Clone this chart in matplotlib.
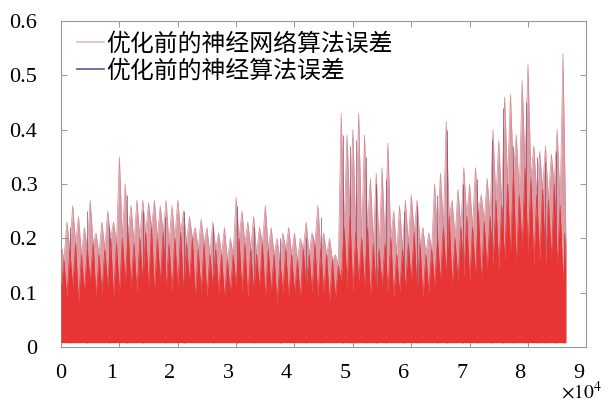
import numpy as np
import matplotlib
matplotlib.use('Agg')
import matplotlib.pyplot as plt
from matplotlib.transforms import ScaledTranslation

plt.rcParams['font.family'] = ['Liberation Serif', 'DejaVu Serif']
plt.rcParams['mathtext.fontset'] = 'stix'

# read-off values: one value per 1000 samples, pink peaks at k*1000, red peaks in between
step = 1000
n_pts = 87

# upper peaks of the pink series (neural network error before optimisation)
pink_peak = [0.19, 0.23, 0.26, 0.24, 0.22, 0.27, 0.21, 0.23, 0.25, 0.23,
             0.35, 0.30, 0.26, 0.27, 0.27, 0.265, 0.27, 0.26, 0.27, 0.26,
             0.27, 0.25, 0.24, 0.22, 0.235, 0.22, 0.23, 0.21, 0.22, 0.20,
             0.275, 0.25, 0.23, 0.24, 0.22, 0.26, 0.22, 0.20, 0.21, 0.22,
             0.21, 0.20, 0.23, 0.21, 0.26, 0.21, 0.20, 0.17, 0.43, 0.39,
             0.40, 0.43, 0.39, 0.31, 0.32, 0.33, 0.375, 0.25, 0.26, 0.27,
             0.28, 0.27, 0.22, 0.21, 0.30, 0.32, 0.415, 0.27, 0.29, 0.33,
             0.30, 0.33, 0.28, 0.31, 0.40, 0.38, 0.46, 0.465, 0.39, 0.49,
             0.52, 0.37, 0.36, 0.37, 0.355, 0.40, 0.54]

# dark series (neural algorithm error before optimisation): visible spikes
dark_x = [1.5, 4.5, 8.2, 11.3, 14.0, 17.8, 21.0, 26.0, 30.2, 33.0, 37.5,
          42.0, 44.6, 48.3, 49.5, 50.6, 52.3, 54.0, 55.6, 58.8, 61.0, 64.5,
          66.1, 68.8, 71.2, 73.9, 75.8, 77.5, 79.7, 81.5, 83.0, 84.8, 86.2]
dark_top = [0.22, 0.25, 0.22, 0.28, 0.25, 0.24, 0.25, 0.22, 0.26, 0.22, 0.20,
            0.20, 0.24, 0.39, 0.37, 0.38, 0.35, 0.30, 0.31, 0.25, 0.26, 0.28,
            0.40, 0.30, 0.31, 0.38, 0.44, 0.37, 0.45, 0.35, 0.34, 0.36, 0.21]

# red bulk: spike tops and dips
red_peak = [0.16, 0.18, 0.19, 0.17, 0.18, 0.19, 0.17, 0.18, 0.20, 0.19,
            0.20, 0.21, 0.19, 0.20, 0.21, 0.22, 0.20, 0.21, 0.19, 0.20,
            0.21, 0.19, 0.20, 0.18, 0.19, 0.17, 0.18, 0.17, 0.16, 0.17,
            0.20, 0.19, 0.18, 0.17, 0.19, 0.18, 0.17, 0.16, 0.18, 0.17,
            0.16, 0.18, 0.17, 0.19, 0.18, 0.17, 0.16, 0.15, 0.22, 0.24,
            0.21, 0.20, 0.22, 0.19, 0.18, 0.19, 0.20, 0.17, 0.18, 0.19,
            0.21, 0.19, 0.17, 0.18, 0.20, 0.22, 0.24, 0.20, 0.22, 0.24,
            0.22, 0.25, 0.23, 0.24, 0.27, 0.26, 0.30, 0.32, 0.28, 0.33,
            0.31, 0.28, 0.29, 0.27, 0.30, 0.26, 0.20]
red_dip = [0.10, 0.09, 0.11, 0.08, 0.10, 0.12, 0.09, 0.10, 0.11, 0.09,
           0.10, 0.12, 0.11, 0.10, 0.12, 0.11, 0.10, 0.12, 0.11, 0.10,
           0.11, 0.10, 0.12, 0.09, 0.10, 0.09, 0.11, 0.10, 0.09, 0.10,
           0.11, 0.10, 0.09, 0.10, 0.11, 0.09, 0.10, 0.08, 0.10, 0.09,
           0.10, 0.09, 0.11, 0.10, 0.09, 0.10, 0.08, 0.09, 0.12, 0.11,
           0.10, 0.12, 0.11, 0.09, 0.10, 0.11, 0.10, 0.09, 0.10, 0.11,
           0.12, 0.10, 0.09, 0.10, 0.11, 0.12, 0.13, 0.11, 0.12, 0.13,
           0.12, 0.13, 0.12, 0.14, 0.15, 0.14, 0.16, 0.17, 0.15, 0.18,
           0.17, 0.15, 0.16, 0.15, 0.16, 0.15, 0.12]
red_floor = 0.008

labels = ['优化前的神经网络算法误差', '优化前的神经算法误差']
xticks = [0, 1, 2, 3, 4, 5, 6, 7, 8, 9]
yticks = [0, 0.1, 0.2, 0.3, 0.4, 0.5, 0.6]


def zigzag(at_k, at_half):
    # values at k*step and (k+0.5)*step, interleaved
    x0 = np.arange(n_pts) * step
    xs = np.column_stack([x0, x0 + step / 2]).ravel()
    ys = np.column_stack([at_k, at_half]).ravel()
    return xs, ys


fig = plt.figure(figsize=(6.13, 4.03), dpi=100)
ax = fig.add_axes([0.0995, 0.139, 0.857, 0.809])

# pink spikes rise at k*step, drop to the red top in between
xp, yp = zigzag(pink_peak, red_peak)
ax.fill_between(xp, red_floor, yp, color='#dc9ca5', lw=0, zorder=1)
ax.plot(xp, yp, color='#d58a94', lw=0.5, zorder=1.2)
ax.plot([], [], color='#f0b8c0', lw=1.2, label=labels[0])

ax.vlines(np.array(dark_x) * 1e3, red_floor, dark_top, color='#7a3a58',
          lw=0.7, alpha=0.65, zorder=2)
ax.plot([], [], color='#5a5a8c', lw=1.2, label=labels[1])

# red bulk: low at k*step, high in between
xr, yr = zigzag(red_dip, red_peak)
ax.fill_between(xr, red_floor, yr, color='#e83434', lw=0, zorder=3)
ax.plot(xr, yr, color='#e23a3a', lw=0.5, zorder=3.1)

ax.set_xlim(0, 90000)
ax.set_ylim(0, 0.6)
ax.set_xticks([t * 10000 for t in xticks])
ax.set_xticklabels([str(t) for t in xticks])
ax.set_yticks(yticks)
ax.set_yticklabels(['0' if t == 0 else '%.1f' % t for t in yticks])
ax.tick_params(direction='in', length=4, width=0.6, color='#888888',
               labelsize=16, top=True, right=True)
ax.tick_params(axis='x', pad=12)
ax.tick_params(axis='y', pad=17)
for sp in ax.spines.values():
    sp.set_color('#999999')
    sp.set_linewidth(0.8)

# bottom labels in the source sit a little left of their ticks
shift = ScaledTranslation(-0.08, 0, fig.dpi_scale_trans)
for lbl in ax.get_xticklabels()[1:]:
    lbl.set_transform(lbl.get_transform() + shift)

ax.text(0.99, -0.138, r'$\times 10^{4}$', transform=ax.transAxes,
        ha='center', va='center', fontsize=14)

leg = ax.legend(loc='upper left', bbox_to_anchor=(0.03, 0.965), frameon=False,
                prop={'family': ['Noto Sans CJK SC', 'DejaVu Sans'], 'size': 17.2},
                handlelength=1.15, handletextpad=0.1, labelspacing=0.18,
                borderpad=0, borderaxespad=0)

fig.savefig('out.png', dpi=100)
